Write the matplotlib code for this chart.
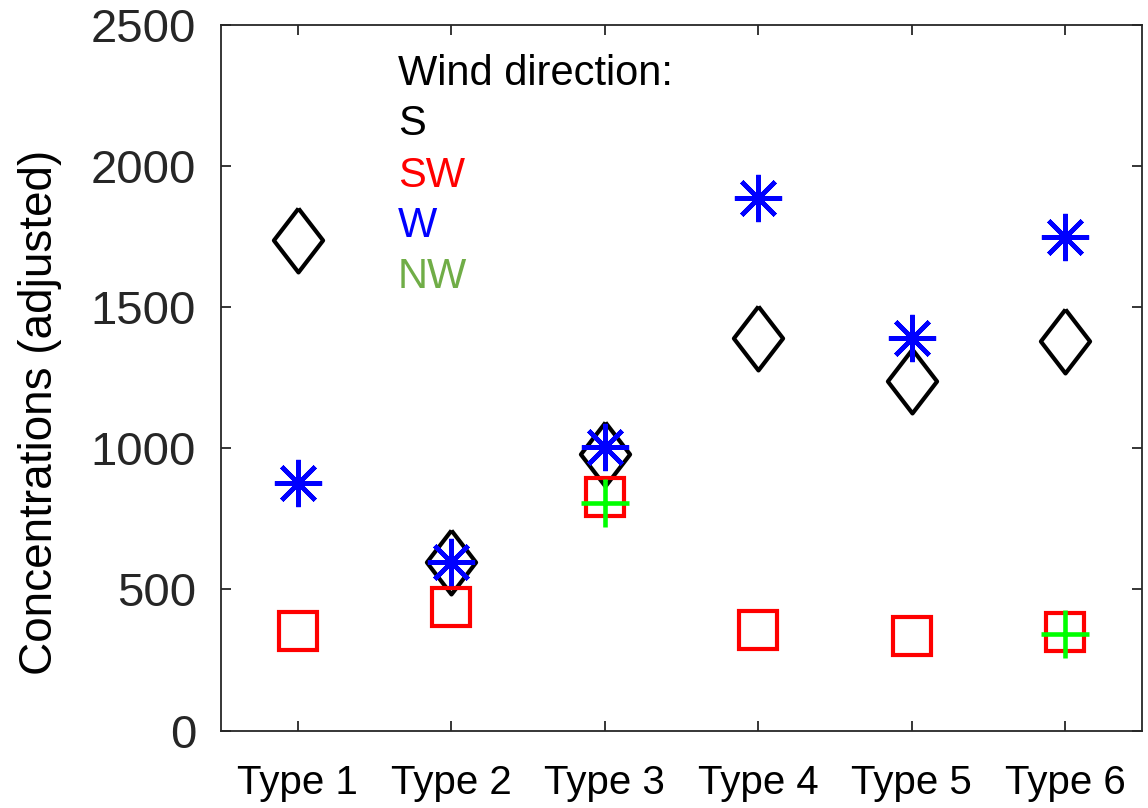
import matplotlib
matplotlib.use("Agg")
import matplotlib.pyplot as plt
import numpy as np

# Data
categories = ["Type 1", "Type 2", "Type 3", "Type 4", "Type 5", "Type 6"]
s_vals = [1737, 597, 979, 1390, 1240, 1380]
sw_vals = [353, 438, 828, 355, 335, 348]
w_vals = [877, 597, 1006, 1888, 1390, 1749]
nw_cats = ["Type 3", "Type 6"]
nw_vals = [807, 341]
yticks = [0, 500, 1000, 1500, 2000, 2500]
legend_labels = ["Wind direction:", "S", "SW", "W", "NW"]
legend_colors = ["black", "black", "#ff0000", "#0000ff", "#70ad47"]

plt.rcParams["font.family"] = ["Liberation Sans", "DejaVu Sans"]

fig = plt.figure(figsize=(11.48, 8.08), dpi=100)
ax = fig.add_axes([221 / 1148, 77.5 / 808, 921 / 1148, 705.5 / 808])

x = np.arange(1, len(categories) + 1)
x_nw = [categories.index(c) + 1 for c in nw_cats]

# tall diamond outline
diamond = [(0, 1), (0.77, 0), (0, -1), (-0.77, 0), (0, 1)]

lw = 3.0
ax.plot(x, s_vals, linestyle="none", marker=diamond, markersize=46,
        markerfacecolor="none", markeredgecolor="black", markeredgewidth=lw)
ax.plot(x, sw_vals, linestyle="none", marker="s", markersize=28,
        markerfacecolor="none", markeredgecolor="#ff0000", markeredgewidth=lw)
ax.plot(x, w_vals, linestyle="none", marker=(8, 2, 0), markersize=34,
        color="#0000ff", markeredgewidth=3.3)
ax.plot(x_nw, nw_vals, linestyle="none", marker="+", markersize=35,
        color="#00ff00", markeredgewidth=3.3)

ax.set_xlim(0.5, 6.5)
ax.set_ylim(0, 2500)
ax.set_xticks(x)
ax.set_xticklabels(categories, fontsize=29)
ax.set_yticks(yticks)
ax.set_yticklabels([str(v) for v in yticks], fontsize=34)

frame_color = "#262626"
for sp in ax.spines.values():
    sp.set_color(frame_color)
    sp.set_linewidth(1.3)
ax.tick_params(axis="both", direction="in", length=7, width=1.3,
               color=frame_color, top=True, right=True)
ax.tick_params(axis="y", pad=18, labelcolor="#262626")
ax.tick_params(axis="x", pad=24, labelcolor="black")

fig.text(40 / 1148, 1 - 412 / 808, "Concentrations (adjusted)", rotation=90,
         ha="center", va="center", fontsize=33)

# wind direction key
baselines = [85, 135, 187, 237, 288]
for lab, col, yb in zip(legend_labels, legend_colors, baselines):
    fig.text(398 / 1148, 1 - yb / 808, lab, color=col, fontsize=30,
             ha="left", va="baseline")

fig.savefig("out.png", dpi=100)
